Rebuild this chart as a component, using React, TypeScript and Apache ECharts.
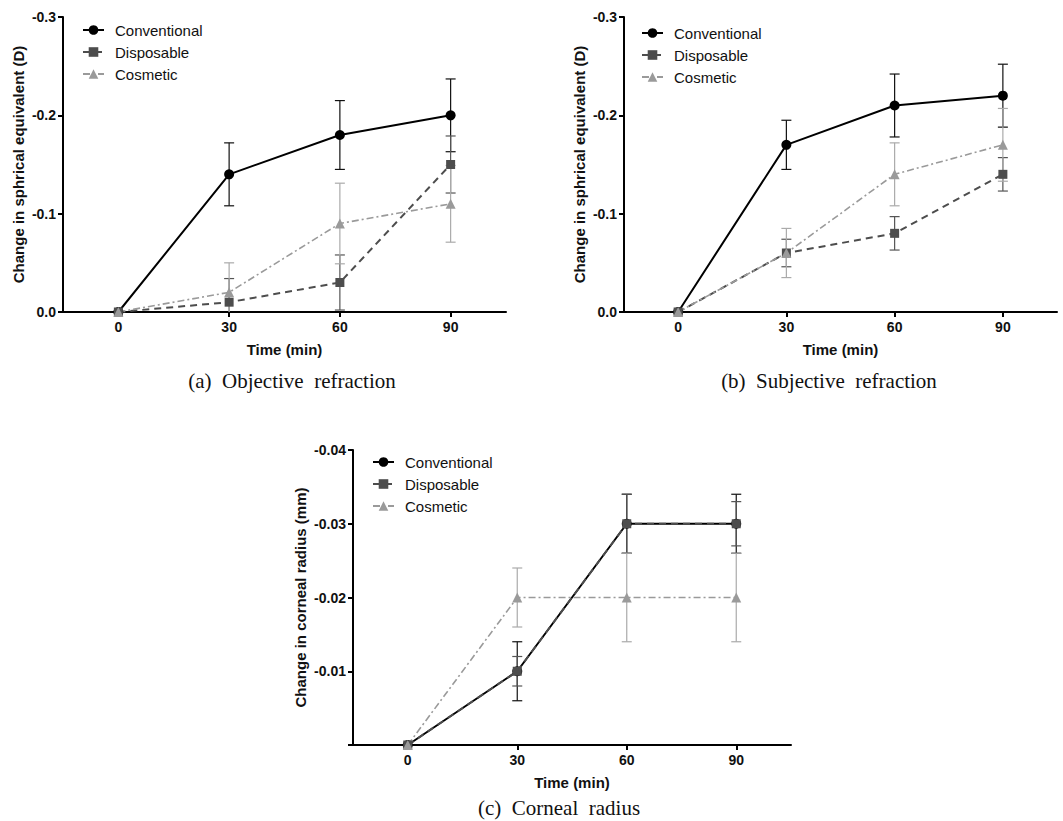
import React, { useEffect, useRef } from "react";
import * as echarts from "echarts";

// ---------- data ----------
const timePoints = [0, 30, 60, 90];
const xTickValues = [0, 30, 60, 90];
const seriesNames = ["Conventional", "Disposable", "Cosmetic"];

// (a) Objective refraction
const objConventional = [0, -0.14, -0.18, -0.2];
const objConventionalSD = [0, 0.032, 0.035, 0.037];
const objDisposable = [0, -0.01, -0.03, -0.15];
const objDisposableSD = [0, 0.024, 0.028, 0.029];
const objCosmetic = [0, -0.02, -0.09, -0.11];
const objCosmeticSD = [0, 0.03, 0.041, 0.039];

// (b) Subjective refraction
const subjConventional = [0, -0.17, -0.21, -0.22];
const subjConventionalSD = [0, 0.025, 0.032, 0.032];
const subjDisposable = [0, -0.06, -0.08, -0.14];
const subjDisposableSD = [0, 0.014, 0.017, 0.017];
const subjCosmetic = [0, -0.06, -0.14, -0.17];
const subjCosmeticSD = [0, 0.025, 0.032, 0.037];

// (c) Corneal radius
const cornConventional = [0, -0.01, -0.03, -0.03];
const cornConventionalSD = [0, 0.004, 0.004, 0.004];
const cornDisposable = [0, -0.01, -0.03, -0.03];
const cornDisposableSD = [0, 0.002, 0.004, 0.003];
const cornCosmetic = [0, -0.02, -0.02, -0.02];
const cornCosmeticSD = [0, 0.004, 0.006, 0.006];

const captions = ["(a)  Objective  refraction", "(b)  Subjective  refraction", "(c)  Corneal  radius"];
const yAxisTitles = [
  "Change in sphrical equivalent (D)",
  "Change in sphrical equivalent (D)",
  "Change in corneal radius (mm)",
];
const xAxisTitle = "Time (min)";

// ---------- styles ----------
const SANS = "'Liberation Sans', Arial, sans-serif";
const SERIF = "'Liberation Serif', 'DejaVu Serif', serif";

const styles = [
  { color: "#000000", errColor: "#111111", symbol: "circle", size: 10, line: { width: 2, type: "solid" as any } },
  { color: "#4d4d4d", errColor: "#555555", symbol: "rect", size: 9, line: { width: 2, type: [7, 5] as any } },
  { color: "#9a9a9a", errColor: "#aaaaaa", symbol: "triangle", size: 10, line: { width: 1.6, type: [7, 3, 2, 3] as any } },
];

const panels = [
  {
    grid: { left: 63, top: 17, width: 443, height: 295 },
    yMin: -0.3, yInterval: 0.1, digits: 1, hideZero: false,
    legend: { left: 82, top: 22 },
    caption: { x: 292, y: 381 },
    vals: [objConventional, objDisposable, objCosmetic],
    sds: [objConventionalSD, objDisposableSD, objCosmeticSD],
  },
  {
    grid: { left: 624, top: 17, width: 433, height: 295 },
    yMin: -0.3, yInterval: 0.1, digits: 1, hideZero: false,
    legend: { left: 641, top: 25 },
    caption: { x: 829, y: 381 },
    vals: [subjConventional, subjDisposable, subjCosmetic],
    sds: [subjConventionalSD, subjDisposableSD, subjCosmeticSD],
  },
  {
    grid: { left: 353, top: 450, width: 438, height: 295 },
    yMin: -0.04, yInterval: 0.01, digits: 2, hideZero: true,
    legend: { left: 372, top: 454 },
    caption: { x: 559, y: 808 },
    vals: [cornConventional, cornDisposable, cornCosmetic],
    sds: [cornConventionalSD, cornDisposableSD, cornCosmeticSD],
  },
];

function makeErrorRender(color: string) {
  return (params: any, api: any) => {
    const x = api.value(0);
    const m = api.value(1);
    const sd = api.value(2);
    if (!sd) return { type: "group", children: [] };
    const cs = params.coordSys;
    const pTop = api.coord([x, m - sd]);
    const pBot = api.coord([x, m + sd]);
    const yMinPx = cs.y;
    const yMaxPx = cs.y + cs.height;
    const style = { stroke: color, lineWidth: 1.2, fill: "none" };
    const children: any[] = [];
    const y1 = Math.max(yMinPx, Math.min(yMaxPx, pTop[1]));
    const y2 = Math.max(yMinPx, Math.min(yMaxPx, pBot[1]));
    children.push({ type: "line", shape: { x1: pTop[0], y1, x2: pBot[0], y2 }, style });
    const hw = 5;
    if (pTop[1] >= yMinPx && pTop[1] <= yMaxPx)
      children.push({ type: "line", shape: { x1: pTop[0] - hw, y1: pTop[1], x2: pTop[0] + hw, y2: pTop[1] }, style });
    if (pBot[1] >= yMinPx && pBot[1] <= yMaxPx)
      children.push({ type: "line", shape: { x1: pBot[0] - hw, y1: pBot[1], x2: pBot[0] + hw, y2: pBot[1] }, style });
    return { type: "group", children };
  };
}

function buildOption() {
  const grid: any[] = [];
  const xAxis: any[] = [];
  const yAxis: any[] = [];
  const legend: any[] = [];
  const series: any[] = [];
  const graphic: any[] = [];

  panels.forEach((p, pi) => {
    grid.push({ ...p.grid });
    xAxis.push({
      type: "value",
      gridIndex: pi,
      min: -15,
      max: 105,
      name: xAxisTitle,
      nameLocation: "middle",
      nameGap: 30,
      nameTextStyle: { fontFamily: SANS, fontWeight: "bold", fontSize: 15, color: "#111" },
      axisLine: { show: true, onZero: false, lineStyle: { color: "#000", width: 2 } },
      axisTick: { show: true, length: 5, customValues: xTickValues, lineStyle: { color: "#000", width: 2 } },
      axisLabel: {
        show: true,
        customValues: xTickValues,
        margin: 8,
        fontFamily: SANS,
        fontWeight: "bold",
        fontSize: 14,
        color: "#111",
        formatter: (v: number) => String(v),
      },
      splitLine: { show: false },
    });
    yAxis.push({
      type: "value",
      gridIndex: pi,
      inverse: true,
      min: p.yMin,
      max: 0,
      interval: p.yInterval,
      name: yAxisTitles[pi],
      nameLocation: "middle",
      nameGap: pi === 2 ? 45 : 37,
      nameTextStyle: { fontFamily: SANS, fontWeight: "bold", fontSize: 15, color: "#111" },
      axisLine: { show: true, onZero: false, lineStyle: { color: "#000", width: 2 } },
      axisTick: { show: true, length: 5, lineStyle: { color: "#000", width: 2 } },
      axisLabel: {
        margin: 7,
        fontFamily: SANS,
        fontWeight: "bold",
        fontSize: 14,
        color: "#111",
        formatter: (v: number) => {
          if (Math.abs(v) < 1e-9) return p.hideZero ? "" : (0).toFixed(p.digits);
          return v.toFixed(p.digits);
        },
      },
      splitLine: { show: false },
    });
    legend.push({
      orient: "vertical",
      left: p.legend.left,
      top: p.legend.top,
      padding: 0,
      itemWidth: 21,
      itemHeight: 12,
      itemGap: 6,
      data: seriesNames,
      selectedMode: false,
      textStyle: { fontFamily: SANS, fontSize: 15, color: "#111", lineHeight: 16, padding: [0, 0, 0, 6] },
    });

    seriesNames.forEach((name, si) => {
      const st = styles[si];
      series.push({
        type: "custom",
        name: name + " SD",
        xAxisIndex: pi,
        yAxisIndex: pi,
        data: timePoints.map((t, i) => [t, p.vals[si][i], p.sds[si][i]]),
        encode: { x: 0, y: 1 },
        renderItem: makeErrorRender(st.errColor),
        silent: true,
        z: 2,
      });
    });
    seriesNames.forEach((name, si) => {
      const st = styles[si];
      series.push({
        type: "line",
        name,
        xAxisIndex: pi,
        yAxisIndex: pi,
        data: timePoints.map((t, i) => [t, p.vals[si][i]]),
        symbol: st.symbol,
        symbolSize: st.size,
        showAllSymbol: true,
        itemStyle: { color: st.color },
        lineStyle: { color: st.color, width: st.line.width, type: st.line.type },
        z: 3,
      });
    });

    graphic.push({
      type: "text",
      x: p.caption.x,
      y: p.caption.y,
      style: {
        text: captions[pi],
        fontFamily: SERIF,
        fontSize: 21,
        fill: "#111",
        align: "center",
        verticalAlign: "middle",
      },
    });
  });

  return {
    animation: false,
    backgroundColor: "#ffffff",
    grid,
    xAxis,
    yAxis,
    legend,
    series,
    graphic,
  };
}

export default function App() {
  const ref = useRef<HTMLDivElement>(null);
  useEffect(() => {
    if (!ref.current) return;
    const chart = echarts.init(ref.current, undefined, { renderer: "svg" });
    chart.setOption(buildOption() as any);
    return () => chart.dispose();
  }, []);
  return (
    <div
      ref={ref}
      style={{ position: "absolute", left: 0, top: 0, width: 1063, height: 821, background: "#fff" }}
    />
  );
}
